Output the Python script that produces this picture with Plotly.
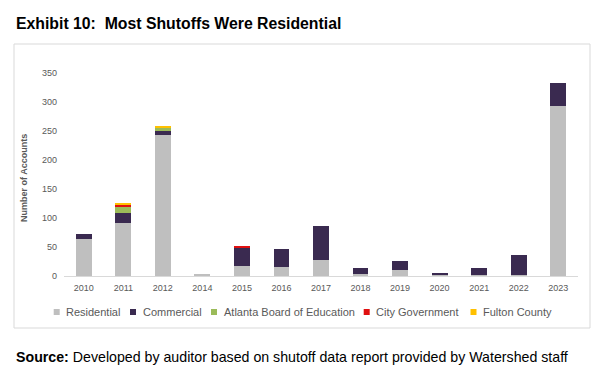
import plotly.graph_objects as go

years = ["2010", "2011", "2012", "2014", "2015", "2016", "2017", "2018", "2019", "2020", "2021", "2022", "2023"]
residential = [63, 91, 243, 2, 18, 16, 28, 3, 10, 1, 1, 2, 293]
commercial = [9, 18, 6, 0, 31, 31, 58, 10, 16, 4, 12, 34, 39]
board_of_education = [0, 10, 7, 0, 0, 0, 0, 0, 0, 0, 0, 0, 0]
city_government = [0, 4, 0, 0, 2, 0, 0, 0, 0, 0, 0, 0, 0]
fulton_county = [0, 2, 1, 0, 0, 0, 0, 0, 0, 0, 0, 0, 0]
y_ticks = [0, 50, 100, 150, 200, 250, 300, 350]

series = [
    ("Residential", residential, "#BFBFBF"),
    ("Commercial", commercial, "#3A2A50"),
    ("Atlanta Board of Education", board_of_education, "#9BBB59"),
    ("City Government", city_government, "#E01010"),
    ("Fulton County", fulton_county, "#FFC000"),
]

fig = go.Figure()
for name, vals, col in series:
    fig.add_trace(go.Bar(x=years, y=vals, name=name, marker=dict(color=col, line=dict(width=0))))

W, H = 600, 377
L, R, T, B = 64, 22, 61, 101
pw, ph = W - L - R, H - T - B

def px(x):
    return (x - L) / pw

def py(y):
    return (H - B - y) / ph

FONT = "Liberation Sans, Arial, sans-serif"
GRAY = "#595959"

shapes = [dict(type="rect", xref="paper", yref="paper", x0=px(14), x1=px(590), y0=py(328), y1=py(44),
               line=dict(color="#D9D9D9", width=1), fillcolor="rgba(0,0,0,0)", layer="below")]
annotations = [
    dict(text="<b>Exhibit 10:  Most Shutoffs Were Residential</b>", xref="paper", yref="paper",
         x=px(14), y=py(24), xanchor="left", yanchor="middle", showarrow=False,
         font=dict(size=15.8, color="#000000", family=FONT)),
    dict(text="<b>Source:</b> Developed by auditor based on shutoff data report provided by Watershed staff",
         xref="paper", yref="paper", x=px(14), y=py(357), xanchor="left", yanchor="middle",
         showarrow=False, font=dict(size=14.2, color="#000000", family=FONT)),
    dict(text="<b>Number of Accounts</b>", xref="paper", yref="paper", x=px(24), y=py(178),
         xanchor="center", yanchor="middle", textangle=-90, showarrow=False,
         font=dict(size=9, color=GRAY, family=FONT)),
]

# legend (drawn manually to match the compact original layout)
legend_sq = [56.7, 133, 214, 366.7, 473.5]
legend_y = 312
for (name, _, col), sx in zip(series, legend_sq):
    shapes.append(dict(type="rect", xref="paper", yref="paper", x0=px(sx - 3), x1=px(sx + 3),
                       y0=py(legend_y + 3), y1=py(legend_y - 3), line=dict(width=0), fillcolor=col))
    annotations.append(dict(text=name, xref="paper", yref="paper", x=px(sx + 7.5), y=py(legend_y),
                            xanchor="left", yanchor="middle", showarrow=False,
                            font=dict(size=11, color=GRAY, family=FONT)))

fig.update_layout(
    width=W, height=H,
    barmode="stack", bargap=0.6,
    margin=dict(l=L, r=R, t=T, b=B, autoexpand=False),
    paper_bgcolor="white", plot_bgcolor="white",
    font=dict(family=FONT, color=GRAY),
    showlegend=False,
    xaxis=dict(type="category", showgrid=False, showline=True, linecolor="#D9D9D9", linewidth=1,
               ticks="", tickfont=dict(size=9, color=GRAY), automargin=False, ticklabelstandoff=3),
    yaxis=dict(range=[0, 370], tickvals=y_ticks, showgrid=False, zeroline=False, showline=False,
               ticks="", tickfont=dict(size=9, color=GRAY), automargin=False, ticklabelstandoff=6),
    shapes=shapes,
    annotations=annotations,
)

fig.write_html("out.html", config={"displayModeBar": False},
               post_script="document.body.style.margin='0';")
